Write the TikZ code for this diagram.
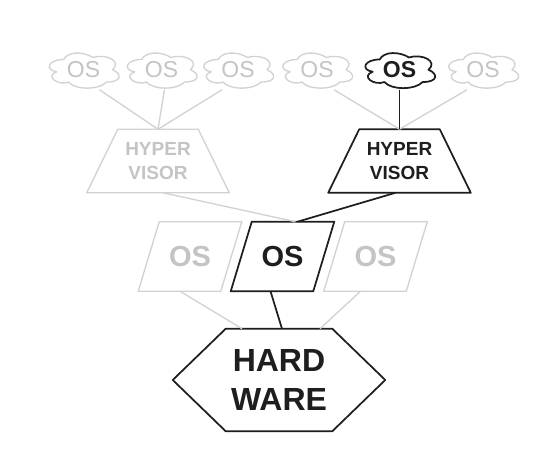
\documentclass[tikz,border=0pt]{standalone}
\usepackage{fontspec}
\setmainfont{Liberation Sans}
\usetikzlibrary{calc}
\definecolor{lightc}{HTML}{D2D2D2}
\definecolor{lighttext}{HTML}{C4C4C4}
\definecolor{darkc}{HTML}{1E1E1E}
\newcommand\cloudoutline[2]{%
  \draw[#2, shift={(#1.north west)}, x=58.5pt, y=-30.75pt]
    (0.25,0.25) .. controls (0.05,0.25) and (0,0.5) .. (0.16,0.55)
    .. controls (0,0.66) and (0.18,0.9) .. (0.31,0.8)
    .. controls (0.4,1) and (0.7,1) .. (0.8,0.8)
    .. controls (1,0.8) and (1,0.6) .. (0.875,0.5)
    .. controls (1,0.3) and (0.8,0.1) .. (0.625,0.2)
    .. controls (0.5,0.05) and (0.3,0.05) .. (0.25,0.25) -- cycle;}
\tikzset{
  cloudbox/.style={rectangle, draw=none, inner sep=0pt, minimum width=58.5pt, minimum height=30.75pt,
    font=\fontsize{17.25pt}{18pt}\selectfont},
  cloudL/.style={cloudbox, text=lighttext},
  cloudD/.style={cloudbox, text=darkc, font=\fontsize{17.25pt}{18pt}\selectfont\bfseries},
  hvbox/.style={rectangle, draw=none, inner sep=0pt, minimum width=106.5pt, minimum height=47.25pt,
    align=center, font=\fontsize{14.25pt}{18pt}\selectfont\bfseries},
  osbox/.style={rectangle, draw=none, inner sep=0pt, minimum width=77.25pt, minimum height=51.75pt,
    font=\fontsize{21.75pt}{24pt}\selectfont\bfseries},
  hwbox/.style={rectangle, draw=none, inner sep=0pt, minimum width=159pt, minimum height=76.5pt,
    align=center, font=\fontsize{24pt}{29.25pt}\selectfont\bfseries, text=darkc},
  lightline/.style={draw=lightc, line width=1pt, line join=round},
  darkline/.style={draw=darkc, line width=1.3pt, line join=round},
}
\begin{document}
\begin{tikzpicture}[x=0.75pt, y=-0.75pt]
\useasboundingbox[fill=white] (0,0) rectangle (554,470);

% clouds
\node[cloudL] (c1) at (83.5,70) {OS};
\node[cloudL] (c2) at (161.5,70) {OS};
\node[cloudL] (c3) at (238,70) {OS};
\node[cloudL] (c4) at (317,70) {OS};
\node[cloudD] (c5) at (399.5,70) {OS};
\node[cloudL] (c6) at (483,70) {OS};
\cloudoutline{c1}{lightline}
\cloudoutline{c2}{lightline}
\cloudoutline{c3}{lightline}
\cloudoutline{c4}{lightline}
\cloudoutline{c5}{darkline}
\cloudoutline{c6}{lightline}

% hypervisors
\node[hvbox, text=lighttext] (hv1) at (158,161) {HYPER\\VISOR};
\node[hvbox, text=darkc] (hv2) at (399.5,161) {HYPER\\VISOR};
\draw[lightline] ($(hv1.north west)+(31,0)$) -- ($(hv1.north east)+(-31,0)$) -- (hv1.south east) -- (hv1.south west) -- cycle;
\draw[darkline] ($(hv2.north west)+(31,0)$) -- ($(hv2.north east)+(-31,0)$) -- (hv2.south east) -- (hv2.south west) -- cycle;

% OS parallelograms
\node[osbox, text=lighttext] (os1) at (190,256.5) {OS};
\node[osbox, text=darkc] (os2) at (282.5,256.5) {OS};
\node[osbox, text=lighttext] (os3) at (375.5,256.5) {OS};
\draw[lightline] ($(os1.north west)+(21,0)$) -- (os1.north east) -- ($(os1.south east)+(-21,0)$) -- (os1.south west) -- cycle;
\draw[darkline] ($(os2.north west)+(21,0)$) -- (os2.north east) -- ($(os2.south east)+(-21,0)$) -- (os2.south west) -- cycle;
\draw[lightline] ($(os3.north west)+(21,0)$) -- (os3.north east) -- ($(os3.south east)+(-21,0)$) -- (os3.south west) -- cycle;

% hardware
\node[hwbox] (hw) at (279,380) {HARD\\WARE};
\draw[darkline] (hw.west) -- ($(hw.north west)+(53,0)$) -- ($(hw.north east)+(-53,0)$) -- (hw.east)
  -- ($(hw.south east)+(-53,0)$) -- ($(hw.south west)+(53,0)$) -- cycle;

% connectors clouds -> hypervisors
\draw[lightline] ($(c1.south)+(16,-1)$) -- (hv1.north);
\draw[lightline] ($(c2.south)+(3,-1)$) -- (hv1.north);
\draw[lightline] ($(c3.south)+(-16,-1)$) -- (hv1.north);
\draw[lightline] ($(c4.south)+(17,-1)$) -- (hv2.north);
\draw[lightline] ($(c6.south)+(-16,-1)$) -- (hv2.north);
\draw[darkline] ($(c5.south)+(0,-1)$) -- (hv2.north);

% hypervisors -> OS
\draw[lightline] ($(hv1.south)+(5,0)$) -- ($(os2.north)+(13,0)$);
\draw[darkline] ($(hv2.south)+(-4,0)$) -- ($(os2.north)+(15,0)$);

% OS -> hardware
\draw[lightline] ($(os1.south)+(-10,0)$) -- ($(hw.north)+(-37,0)$);
\draw[lightline] ($(os3.south)+(-15,0)$) -- ($(hw.north)+(41,0)$);
\draw[darkline] ($(os2.south)+(-12,0)$) -- ($(hw.north)+(3,0)$);
\end{tikzpicture}
\end{document}
